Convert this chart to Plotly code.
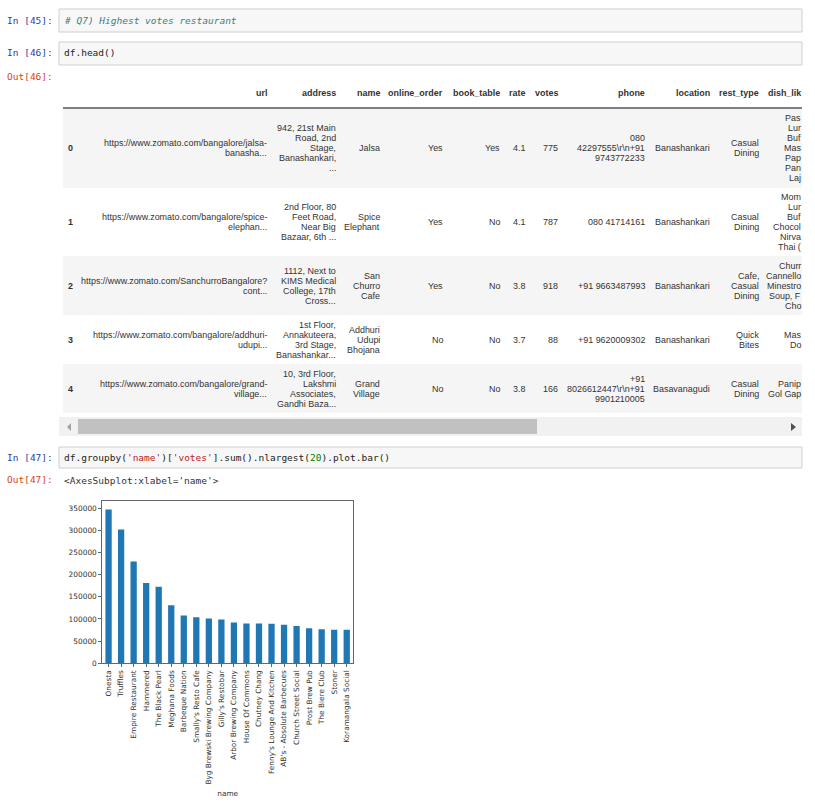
#!/usr/bin/env python3
"""Notebook screenshot: df.head() table and bar chart of the most voted restaurants."""

import plotly.graph_objects as go

W, H = 815, 807

# ========== chart data ==========
names = ["Onesta", "Truffles", "Empire Restaurant", "Hammered", "The Black Pearl",
         "Meghana Foods", "Barbeque Nation", "Smally's Resto Cafe",
         "Byg Brewski Brewing Company", "Gilly's Restobar", "Arbor Brewing Company",
         "House Of Commons", "Chutney Chang", "Fenny's Lounge And Kitchen",
         "AB's - Absolute Barbecues", "Church Street Social", "Prost Brew Pub",
         "The Biere Club", "Stoner", "Koramangala Social"]
votes_sum = [347000, 302000, 230000, 181000, 173000, 131000, 108000, 104000, 101000, 99000,
             92000, 90000, 90000, 89000, 87000, 84000, 79000, 77000, 76000, 75500]
y_ticks = [0, 50000, 100000, 150000, 200000, 250000, 300000, 350000]

# ========== table data ==========
headers = ["url", "address", "name", "online_order", "book_table", "rate", "votes",
           "phone", "location", "rest_type", "dish_lik"]
row_index = ["0", "1", "2", "3", "4"]
col_url = [["https://www.zomato.com/bangalore/jalsa-", "banasha..."],
           ["https://www.zomato.com/bangalore/spice-", "elephan..."],
           ["https://www.zomato.com/SanchurroBangalore?", "cont..."],
           ["https://www.zomato.com/bangalore/addhuri-", "udupi..."],
           ["https://www.zomato.com/bangalore/grand-", "village..."]]
col_address = [["942, 21st Main", "Road, 2nd", "Stage,", "Banashankari,", "..."],
               ["2nd Floor, 80", "Feet Road,", "Near Big", "Bazaar, 6th ..."],
               ["1112, Next to", "KIMS Medical", "College, 17th", "Cross..."],
               ["1st Floor,", "Annakuteera,", "3rd Stage,", "Banashankar..."],
               ["10, 3rd Floor,", "Lakshmi", "Associates,", "Gandhi Baza..."]]
col_name = [["Jalsa"], ["Spice", "Elephant"], ["San", "Churro", "Cafe"],
            ["Addhuri", "Udupi", "Bhojana"], ["Grand", "Village"]]
col_online = [["Yes"], ["Yes"], ["Yes"], ["No"], ["No"]]
col_book = [["Yes"], ["No"], ["No"], ["No"], ["No"]]
col_rate = [["4.1"], ["4.1"], ["3.8"], ["3.7"], ["3.8"]]
col_votes = [["775"], ["787"], ["918"], ["88"], ["166"]]
col_phone = [["080", "42297555\\r\\n+91", "9743772233"], ["080 41714161"], ["+91 9663487993"],
             ["+91 9620009302"], ["+91", "8026612447\\r\\n+91", "9901210005"]]
col_location = [["Banashankari"], ["Banashankari"], ["Banashankari"], ["Banashankari"],
                ["Basavanagudi"]]
col_rest = [["Casual", "Dining"], ["Casual", "Dining"], ["Cafe,", "Casual", "Dining"],
            ["Quick", "Bites"], ["Casual", "Dining"]]
col_dish = [["Pas", "Lur", "Buf", "Mas", "Pap", "Pan", "Laj"],
            ["Mom", "Lur", "Buf", "Chocol", "Nirva", "Thai ("],
            ["Churr", "Cannello", "Minestro", "Soup, F", "Cho"],
            ["Mas", "Do"], ["Panip", "Gol Gap"]]
columns = [col_url, col_address, col_name, col_online, col_book, col_rate, col_votes,
           col_phone, col_location, col_rest, col_dish]

# layout in page pixels
col_right = [268, 337, 381, 444, 501, 526, 559, 646, 711, 760, 802]
row_top = [109, 188, 256, 315, 364]
row_bottom = [188, 256, 315, 364, 413]
row_mid = [148, 222, 286, 340, 389]
LINE_H = 10

TABLE_FONT = "Liberation Sans"
MONO_FONT = "DejaVu Sans Mono"
PLOT_FONT = "DejaVu Sans"
IN_COLOR = "#303F9F"
OUT_COLOR = "#D84315"
TEXT_COLOR = "#333333"


def px(x):
    return x / W


def py(y):
    return 1 - y / H


annotations = []
shapes = []


def add_text(x, y, text, anchor="right", size=8.95, family=TABLE_FONT, color=TEXT_COLOR):
    annotations.append(dict(x=px(x), y=py(y), xref="paper", yref="paper", text=text,
                            showarrow=False, xanchor=anchor, yanchor="middle",
                            borderpad=0,
                            font=dict(family=family, size=size, color=color)))


def add_rect(x0, y0, x1, y1, fill, line=None):
    shapes.append(dict(type="rect", xref="paper", yref="paper", layer="below",
                       x0=px(x0), x1=px(x1), y0=py(y0), y1=py(y1), fillcolor=fill,
                       line=dict(color=line or fill, width=1 if line else 0)))


# input cells
add_rect(59, 9, 802, 32, "#f7f7f7", "#cfcfcf")
add_rect(59, 42, 802, 65, "#f7f7f7", "#cfcfcf")
add_rect(59, 447, 802, 468, "#f7f7f7", "#cfcfcf")

add_text(54, 20, "In [45]:", size=9.5, family=MONO_FONT, color=IN_COLOR)
add_text(54, 53, "In [46]:", size=9.5, family=MONO_FONT, color=IN_COLOR)
add_text(54, 76, "Out[46]:", size=9.5, family=MONO_FONT, color=OUT_COLOR)
add_text(54, 457, "In [47]:", size=9.5, family=MONO_FONT, color=IN_COLOR)
add_text(54, 479, "Out[47]:", size=9.5, family=MONO_FONT, color=OUT_COLOR)

add_text(63, 20, "<i># Q7) Highest votes restaurant</i>", "left", 9.5, MONO_FONT, "#408080")
add_text(63, 53, "df.head()", "left", 9.5, MONO_FONT, "#222222")
add_text(63, 457,
         "df.groupby(<span style='color:#BA2121'>'name'</span>)"
         "[<span style='color:#BA2121'>'votes'</span>].sum().nlargest("
         "<span style='color:#008000'>20</span>).plot.bar()",
         "left", 9.5, MONO_FONT, "#222222")
add_text(63, 480, "&lt;AxesSubplot:xlabel='name'&gt;", "left", 9.5, MONO_FONT, "#333333")

# table header and stripes
for right, head in zip(col_right, headers):
    add_text(right, 93, "<b>" + head + "</b>")
shapes.append(dict(type="line", xref="paper", yref="paper", layer="below",
                   x0=px(63), x1=px(802), y0=py(108), y1=py(108),
                   line=dict(color="#000000", width=1)))
for i in range(5):
    if i % 2 == 0:
        add_rect(63, row_top[i], 802, row_bottom[i], "#f5f5f5")
    add_text(70, row_mid[i], "<b>" + row_index[i] + "</b>", "center")
    for right, col in zip(col_right, columns):
        lines = col[i]
        first = row_mid[i] - (len(lines) - 1) * LINE_H / 2
        for n, line in enumerate(lines):
            add_text(right, first + n * LINE_H, line)

# horizontal scrollbar
add_rect(59, 417, 802, 436, "#f1f1f1")
add_rect(78, 419, 537, 434, "#c1c1c1")
shapes.append(dict(type="path", xref="paper", yref="paper", layer="below",
                   path=f"M {px(71)} {py(423)} L {px(71)} {py(431)} L {px(67)} {py(427)} Z",
                   fillcolor="#a3a3a3", line=dict(width=0)))
shapes.append(dict(type="path", xref="paper", yref="paper", layer="below",
                   path=f"M {px(791)} {py(423)} L {px(791)} {py(431)} L {px(796)} {py(427)} Z",
                   fillcolor="#505050", line=dict(width=0)))

fig = go.Figure(go.Bar(x=names, y=votes_sum, marker_color="#1f77b4", marker_line_width=0))

axis_line = "#666666"
fig.update_layout(
    width=W, height=H,
    margin=dict(l=0, r=0, t=0, b=0),
    paper_bgcolor="white",
    plot_bgcolor="white",
    showlegend=False,
    bargap=0.5,
    annotations=annotations,
    shapes=shapes,
    xaxis=dict(domain=[px(102.3), px(353)], range=[-0.5, 19.5], tickangle=-90, automargin=False,
               showgrid=False, zeroline=False, showline=True, mirror=True,
               linecolor=axis_line, linewidth=1, ticks="outside", ticklen=3, tickwidth=1,
               tickcolor=axis_line, tickfont=dict(family=PLOT_FONT, size=7.35, color="#333333"),
               title=dict(text="name", standoff=7,
                          font=dict(family=PLOT_FONT, size=7.35, color="#333333"))),
    yaxis=dict(domain=[py(663.3), py(500.7)], range=[0, 367000], tickvals=y_ticks, automargin=False,
               showgrid=False, zeroline=False, showline=True, mirror=True,
               linecolor=axis_line, linewidth=1, ticks="outside", ticklen=3, tickwidth=1,
               tickcolor=axis_line, tickformat="d",
               tickfont=dict(family=PLOT_FONT, size=7.4, color="#333333")),
)

# page margin would push everything 8px off
fig.write_html("out.html", config={"displayModeBar": False},
               post_script="document.body.style.margin = '0';")
